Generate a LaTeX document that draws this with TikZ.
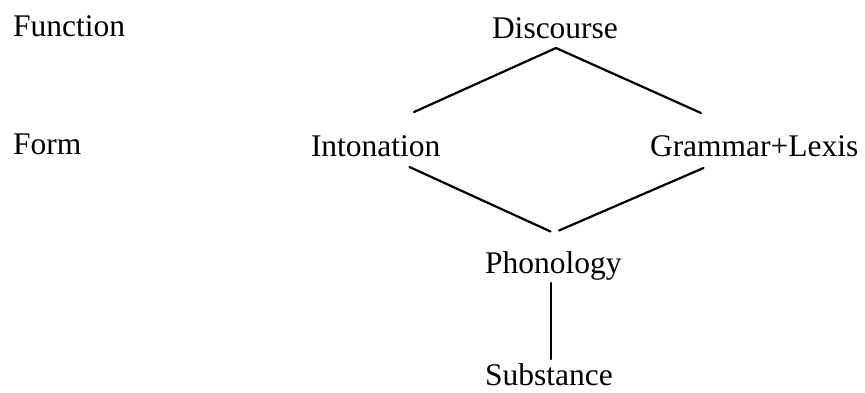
\documentclass[tikz,border=0pt]{standalone}
\usepackage{fontspec}
\setmainfont{Liberation Serif}
\begin{document}
\begin{tikzpicture}[x=1pt,y=-1pt,
  lbl/.style={anchor=base west,inner sep=0pt,outer sep=0pt,font=\fontsize{31.5}{36}\selectfont},
  conn/.style={line width=2.2pt,line cap=round}]
\useasboundingbox (0,0) rectangle (865,393);
\node[lbl] (function) at (13,37) {Function};
\node[lbl] (form) at (13,155) {Form};
\node[lbl] (disc) at (492,39) {Discourse};
\node[lbl] (inton) at (311,157) {Intonation};
\node[lbl] (gram) at (650,157) {Grammar+Lexis};
\node[lbl] (phon) at (485,273) {Phonology};
\node[lbl] (subst) at (485,385) {Substance};
\coordinate (dApex) at (556,48);
\coordinate (iTop) at (414,112);
\coordinate (gTop) at (701,113);
\coordinate (iBot) at (409.5,167);
\coordinate (gBot) at (703.5,168);
\coordinate (pL) at (550.5,231.5);
\coordinate (pR) at (559,230.5);
\coordinate (pBot) at (551,283);
\coordinate (sTop) at (551,359);
\draw[conn] (dApex) -- (iTop);
\draw[conn] (dApex) -- (gTop);
\draw[conn] (iBot) -- (pL);
\draw[conn] (gBot) -- (pR);
\draw[conn] (pBot) -- (sTop);
\end{tikzpicture}
\end{document}
